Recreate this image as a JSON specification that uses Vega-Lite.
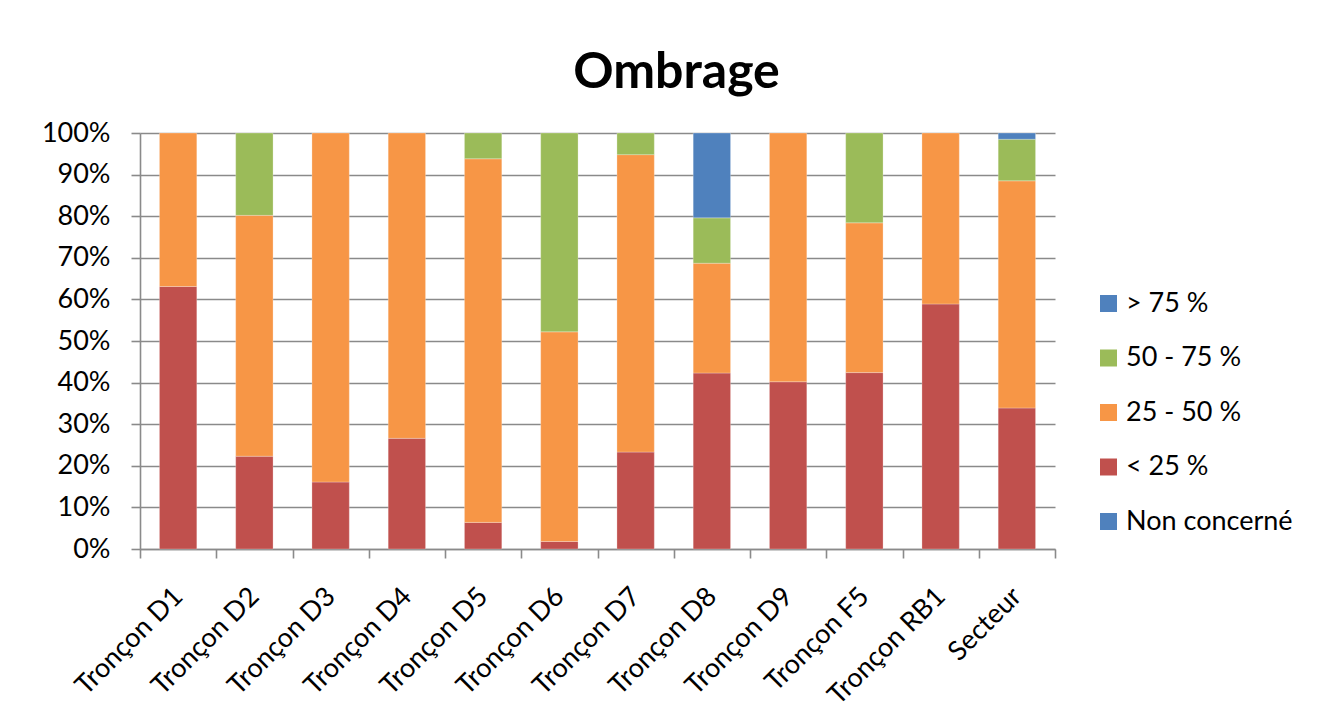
{
  "$schema": "https://vega.github.io/schema/vega-lite/v6.json",
  "width": 915,
  "height": 416,
  "autosize": {"type": "pad"},
  "padding": {"left": 40, "top": 48, "right": 10, "bottom": 10},
  "background": "white",
  "title": {
    "text": "Ombrage",
    "font": "Lato",
    "fontSize": 50,
    "fontWeight": "bold",
    "color": "black",
    "anchor": "middle",
    "frame": "bounds",
    "dx": 10,
    "offset": 21
  },
  "data": {
    "values": [
      {"troncon": "Tronçon D1", "classe": "< 25 %", "part": 63.1},
      {"troncon": "Tronçon D1", "classe": "25 - 50 %", "part": 36.9},
      {"troncon": "Tronçon D2", "classe": "< 25 %", "part": 22.3},
      {"troncon": "Tronçon D2", "classe": "25 - 50 %", "part": 57.9},
      {"troncon": "Tronçon D2", "classe": "50 - 75 %", "part": 19.8},
      {"troncon": "Tronçon D3", "classe": "< 25 %", "part": 16.1},
      {"troncon": "Tronçon D3", "classe": "25 - 50 %", "part": 83.9},
      {"troncon": "Tronçon D4", "classe": "< 25 %", "part": 26.6},
      {"troncon": "Tronçon D4", "classe": "25 - 50 %", "part": 73.4},
      {"troncon": "Tronçon D5", "classe": "< 25 %", "part": 6.4},
      {"troncon": "Tronçon D5", "classe": "25 - 50 %", "part": 87.4},
      {"troncon": "Tronçon D5", "classe": "50 - 75 %", "part": 6.2},
      {"troncon": "Tronçon D6", "classe": "< 25 %", "part": 1.8},
      {"troncon": "Tronçon D6", "classe": "25 - 50 %", "part": 50.4},
      {"troncon": "Tronçon D6", "classe": "50 - 75 %", "part": 47.8},
      {"troncon": "Tronçon D7", "classe": "< 25 %", "part": 23.3},
      {"troncon": "Tronçon D7", "classe": "25 - 50 %", "part": 71.5},
      {"troncon": "Tronçon D7", "classe": "50 - 75 %", "part": 5.2},
      {"troncon": "Tronçon D8", "classe": "< 25 %", "part": 42.3},
      {"troncon": "Tronçon D8", "classe": "25 - 50 %", "part": 26.4},
      {"troncon": "Tronçon D8", "classe": "50 - 75 %", "part": 10.9},
      {"troncon": "Tronçon D8", "classe": "> 75 %", "part": 20.4},
      {"troncon": "Tronçon D9", "classe": "< 25 %", "part": 40.2},
      {"troncon": "Tronçon D9", "classe": "25 - 50 %", "part": 59.8},
      {"troncon": "Tronçon F5", "classe": "< 25 %", "part": 42.4},
      {"troncon": "Tronçon F5", "classe": "25 - 50 %", "part": 36.0},
      {"troncon": "Tronçon F5", "classe": "50 - 75 %", "part": 21.6},
      {"troncon": "Tronçon RB1", "classe": "< 25 %", "part": 58.9},
      {"troncon": "Tronçon RB1", "classe": "25 - 50 %", "part": 41.1},
      {"troncon": "Secteur", "classe": "< 25 %", "part": 33.9},
      {"troncon": "Secteur", "classe": "25 - 50 %", "part": 54.6},
      {"troncon": "Secteur", "classe": "50 - 75 %", "part": 10.0},
      {"troncon": "Secteur", "classe": "> 75 %", "part": 1.5}
    ]
  },
  "transform": [
    {"calculate": "indexof(['> 75 %', '50 - 75 %', '25 - 50 %', '< 25 %', 'Non concerné'], datum.classe)", "as": "rang"}
  ],
  "mark": {"type": "bar", "width": {"band": 0.49}, "stroke": "white", "strokeWidth": 0.5, "strokeOpacity": 0.5},
  "encoding": {
    "x": {
      "field": "troncon",
      "type": "nominal",
      "sort": null,
      "scale": {"paddingInner": 0, "paddingOuter": 0},
      "axis": {
        "title": null,
        "tickBand": "extent",
        "tickSize": 9,
        "tickWidth": 1.6,
        "tickColor": "#8a8a8a",
        "domainColor": "#8a8a8a",
        "domainWidth": 1.6,
        "labelAngle": -45,
        "labelAlign": "right",
        "labelBaseline": "middle",
        "labelPadding": 34,
        "labelFont": "Lato",
        "labelFontSize": 27,
        "labelColor": "black",
        "grid": false
      }
    },
    "y": {
      "field": "part",
      "type": "quantitative",
      "stack": "zero",
      "scale": {"domain": [0, 100], "nice": false},
      "axis": {
        "title": null,
        "values": [0, 10, 20, 30, 40, 50, 60, 70, 80, 90, 100],
        "labelExpr": "datum.value + '%'",
        "labelFont": "Lato",
        "labelFontSize": 27,
        "labelColor": "black",
        "labelPadding": 21,
        "tickSize": 9,
        "tickWidth": 1.6,
        "tickColor": "#8a8a8a",
        "domainColor": "#8a8a8a",
        "domainWidth": 1.6,
        "grid": true,
        "gridColor": "#8a8a8a",
        "gridWidth": 1.6,
        "minExtent": 100,
        "maxExtent": 100
      }
    },
    "color": {
      "field": "classe",
      "type": "nominal",
      "scale": {
        "domain": ["> 75 %", "50 - 75 %", "25 - 50 %", "< 25 %", "Non concerné"],
        "range": ["#4F81BD", "#9BBB59", "#F79646", "#C0504D", "#4F81BD"]
      },
      "legend": {
        "title": null,
        "orient": "none",
        "legendX": 955,
        "legendY": 157,
        "symbolType": "square",
        "symbolSize": 289,
        "symbolStrokeWidth": 0,
        "labelFont": "Lato",
        "labelFontSize": 27,
        "labelColor": "black",
        "labelOffset": 4,
        "labelLimit": 0,
        "rowPadding": 26.5
      }
    },
    "order": {"field": "rang", "type": "quantitative", "sort": "descending"}
  },
  "config": {
    "view": {"stroke": null}
  }
}
